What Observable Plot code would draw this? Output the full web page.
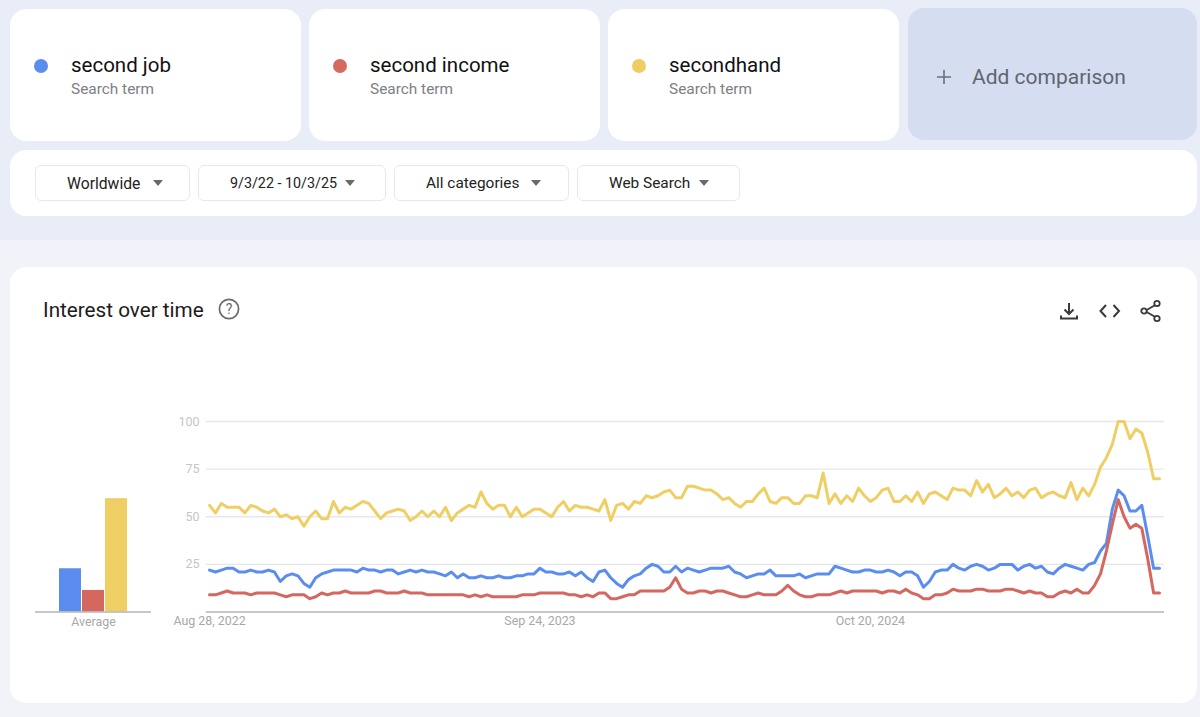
<!DOCTYPE html>
<html lang="en">
<head>
<meta charset="utf-8">
<script src="https://cdn.jsdelivr.net/npm/d3@7"></script>
<script src="https://cdn.jsdelivr.net/npm/@observablehq/plot@0.6"></script>
<style>
  html, body { margin: 0; padding: 0; }
  body { width: 1200px; height: 717px; position: relative; overflow: hidden; background: #f1f3f9; font-family: Roboto, sans-serif; }
  .abs { position: absolute; box-sizing: border-box; }
  #top { left: 0; top: 0; width: 1200px; height: 240px; background: #e9edf7; }
  .card { background: #fff; border-radius: 16px; }
  .term { top: 9px; height: 132px; width: 291px; box-shadow: 0 0 1px #dfe3ee; }
  .dot { width: 14px; height: 14px; border-radius: 50%; top: 50px; left: 24px; }
  .name { left: 61px; top: 44px; font-size: 20.5px; color: #111; white-space: nowrap; }
  .sub { left: 61px; top: 71px; font-size: 15.4px; color: #7d8084; white-space: nowrap; }
  #add { left: 908px; top: 8px; width: 289px; height: 132px; background: #d5ddf0; border-radius: 16px; }
  #add .plus { left: 27px; top: 60px; }
  #add .lab { left: 64px; top: 57px; font-size: 21px; color: #5f6570; white-space: nowrap; }
  #filters { left: 10px; top: 150px; width: 1187px; height: 66px; }
  .pill { top: 165px; height: 36px; background: #fff; border: 1px solid #e6e8ec; border-radius: 6px; font-size: 15.4px; color: #222; }
  .pill span { position: absolute; top: 8px; white-space: nowrap; }
  .pill i { position: absolute; top: 14px; width: 0; height: 0; border-left: 5.5px solid transparent; border-right: 5.5px solid transparent; border-top: 6px solid #6a6a6a; }
  #panel { left: 10px; top: 267px; width: 1187px; height: 436px; }
  #title { left: 43px; top: 298px; font-size: 20.7px; color: #1c1c1c; white-space: nowrap; }
  #line, #bars { position: absolute; top: 400px; }
  #line { left: 160px; }
  #bars { left: 30px; }
  svg { display: block; }
</style>
</head>
<body>
<div class="abs" id="top"></div>

<div class="abs card term" style="left:10px">
  <div class="abs dot" style="background:#5b8def"></div>
  <div class="abs name">second job</div><div class="abs sub">Search term</div>
</div>
<div class="abs card term" style="left:309px">
  <div class="abs dot" style="background:#d46a60"></div>
  <div class="abs name">second income</div><div class="abs sub">Search term</div>
</div>
<div class="abs card term" style="left:608px">
  <div class="abs dot" style="background:#f0cd62"></div>
  <div class="abs name">secondhand</div><div class="abs sub">Search term</div>
</div>
<div class="abs" id="add">
  <svg class="abs plus" width="18" height="18" viewBox="0 0 18 18"><path d="M9 2v14M2 9h14" stroke="#6b7078" stroke-width="1.6" fill="none"/></svg>
  <div class="abs lab">Add comparison</div>
</div>

<div class="abs card" id="filters"></div>
<div class="abs pill" style="left:35px;width:155px"><span style="left:31px;font-size:15.7px">Worldwide</span><i style="left:117px"></i></div>
<div class="abs pill" style="left:198px;width:188px"><span style="left:31px;font-size:14.3px;top:9px">9/3/22 - 10/3/25</span><i style="left:146px"></i></div>
<div class="abs pill" style="left:394px;width:175px"><span style="left:31px">All categories</span><i style="left:136px"></i></div>
<div class="abs pill" style="left:577px;width:163px"><span style="left:31px">Web Search</span><i style="left:121px"></i></div>

<div class="abs card" id="panel"></div>
<div class="abs" id="title">Interest over time</div>
<svg class="abs" style="left:218px;top:298px" width="22" height="22" viewBox="0 0 22 22">
  <circle cx="11" cy="11" r="9.6" fill="none" stroke="#6a6a6a" stroke-width="1.7"/>
  <text x="11" y="16" text-anchor="middle" font-size="14" font-family="Roboto" fill="#6a6a6a">?</text>
</svg>
<svg class="abs" style="left:1058px;top:300px" width="22" height="22" viewBox="0 0 22 22">
  <path d="M11 3v11M6.5 9.5 11 14l4.500-4.500M3 15.500v3h16v-3" fill="none" stroke="#3a3a3a" stroke-width="2"/>
</svg>
<svg class="abs" style="left:1098px;top:300px" width="24" height="22" viewBox="0 0 24 22">
  <path d="M8 5 2.500 11 8 17M15.500 5 21 11l-5.500 6" fill="none" stroke="#3a3a3a" stroke-width="2"/>
</svg>
<svg class="abs" style="left:1139px;top:299px" width="24" height="24" viewBox="0 0 24 24">
  <path d="M6 12 18 5M6 12l12 7" stroke="#3a3a3a" stroke-width="1.8" fill="none"/>
  <circle cx="5" cy="12" r="2.700" fill="#fff" stroke="#3a3a3a" stroke-width="1.800"/>
  <circle cx="18" cy="4.500" r="2.700" fill="#fff" stroke="#3a3a3a" stroke-width="1.800"/>
  <circle cx="18" cy="19.500" r="2.700" fill="#fff" stroke="#3a3a3a" stroke-width="1.800"/>
</svg>

<div id="bars"></div>
<div id="line"></div>

<script>
const terms = ["second job", "second income", "secondhand"];
const colors = ["#5b8def", "#d4675f", "#efcf64"];
const averages = [22.7, 11.3, 59.5];
const yTicks = [25, 50, 75, 100];
const xTickDates = ["2022-08-28", "2023-09-24", "2024-10-20"];
const startDate = "2022-08-28";

const secondJob = [
  22,21,22,23,23,21,21,22,21,21,22,21,16,19,20,19,15,13,18,20,21,22,22,22,22,21,23,22,22,21,22,22,
  20,21,22,21,22,21,21,20,19,21,18,20,18,18,19,18,
  18,19,18,18,19,19,20,20,23,21,21,20,20,21,19,21,18,16,21,22,18,15,13,17,19,20,23,25,24,21,21,24,21,23,
  22,21,22,23,23,23,24,21,20,18,19,20,20,22,19,19,19,19,20,18,19,20,20,20,
  24,23,22,21,21,22,22,21,21,22,21,19,21,21,19,13,16,21,22,22,25,23,22,24,25,24,22,23,25,25,25,22,24,25,
  23,24,21,20,23,25,24,23,22,25,26,32,36,54,64,61,53,53,56,40,23,23
];
const secondIncome = [
  9,9,10,11,10,10,10,9,10,10,10,10,9,8,9,9,9,7,8,10,9,10,10,11,10,10,10,10,11,11,10,10,10,11,10,10,10,9,
  9,9,9,9,9,9,8,9,8,9,
  8,8,8,8,8,9,9,9,10,10,10,10,10,9,9,8,9,8,10,10,7,7,8,9,9,11,11,11,11,11,13,18,12,10,10,11,11,10,11,11,
  10,9,8,8,9,10,9,9,9,11,14,11,9,8,8,9,9,9,
  10,11,10,11,11,11,11,11,10,11,11,10,12,10,9,7,7,9,9,10,12,11,11,11,12,12,11,11,11,12,12,11,10,11,10,10,
  8,8,10,11,10,12,10,10,14,20,32,46,59,50,44,46,44,28,10,10
];
const secondhand = [
  56,52,57,55,55,55,52,56,55,53,52,54,50,51,49,50,45,50,53,49,49,58,52,55,54,56,58,57,53,49,52,53,54,53,
  48,50,53,50,53,50,55,48,52,54,56,55,63,57,
  54,56,56,50,55,50,52,54,54,52,50,55,58,53,56,55,55,54,53,59,48,56,57,54,58,57,61,60,61,63,64,60,60,66,
  66,65,64,64,62,59,60,57,55,58,58,62,65,58,57,60,60,57,57,61,61,60,73,57,
  62,57,61,58,65,61,58,60,64,65,58,58,61,58,63,57,62,63,61,59,65,64,64,61,69,63,67,60,62,65,61,63,60,64,
  65,60,62,63,61,60,68,59,65,61,67,76,81,88,100,100,91,96,94,84,70,70
];
const seriesValues = [secondJob, secondIncome, secondhand];

const start = new Date(startDate + "T00:00:00Z");
const rows = terms.flatMap((term, s) =>
  seriesValues[s].map((value, i) => ({term, value, date: d3.utcWeek.offset(start, i)}))
);
const avgRows = terms.map((term, i) => ({term, value: averages[i]}));

const gridColor = "#e6e7ea";
const baseColor = "#b4b5b8";
const labelGrey = "#a8a8a8";
const yLabelGrey = "#c6c6c6";
const font = "Roboto, sans-serif";

const colorScale = {domain: terms, range: colors};
const yScale = {domain: [0, 100]};

const line = Plot.plot({
  width: 1010, height: 240,
  marginLeft: 46, marginRight: 6, marginTop: 21, marginBottom: 28.5,
  style: {background: "transparent", fontFamily: font, overflow: "visible"},
  x: {type: "utc", insetLeft: 3, insetRight: 5, domain: [start, d3.utcWeek.offset(start, secondJob.length - 1)]},
  y: yScale,
  color: colorScale,
  marks: [
    Plot.ruleY(yTicks, {stroke: gridColor, strokeWidth: 1.4}),
    Plot.ruleY([0], {stroke: baseColor, strokeWidth: 1.4}),
    Plot.axisY({ticks: yTicks, tickSize: 0, tickPadding: 7, label: null, fontSize: 12.5, color: yLabelGrey}),
    Plot.axisX({ticks: xTickDates.map(d => new Date(d + "T00:00:00Z")), tickFormat: d3.utcFormat("%b %-d, %Y"), tickSize: 0, tickPadding: 4, label: null, fontSize: 12.4, color: labelGrey}),
    Plot.line(rows, {x: "date", y: "value", z: "term", stroke: "term", strokeWidth: 3, curve: "linear", strokeLinejoin: "round"})
  ]
});
document.getElementById("line").append(line);

const bars = Plot.plot({
  width: 130, height: 240,
  marginLeft: 5, marginRight: 9, marginTop: 21, marginBottom: 28.5,
  style: {background: "transparent", fontFamily: font, overflow: "visible"},
  x: {domain: terms, insetLeft: 22.5, insetRight: 22.5, padding: 0.04, axis: null},
  y: {...yScale, axis: null},
  color: colorScale,
  marks: [
    Plot.barY(avgRows, {x: "term", y: "value", fill: "term"}),
    Plot.ruleY([0], {stroke: baseColor, strokeWidth: 1.4}),
    Plot.text(["Average"], {frameAnchor: "bottom", dy: 14, fontSize: 12.4, fill: labelGrey})
  ]
});
document.getElementById("bars").append(bars);
</script>
</body>
</html>
